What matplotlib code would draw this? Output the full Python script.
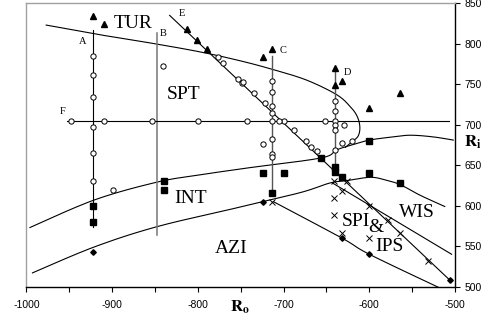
import numpy as np
import matplotlib
matplotlib.use('Agg')
import matplotlib.pyplot as plt

plt.rcParams['axes.unicode_minus'] = False
plt.rcParams['mathtext.fontset'] = 'stix'

# open circles
circ_x = [-922, -922, -922, -922, -922, -922,
          -948, -909, -853, -800, -743, -699, -652, -630,
          -841, -899,
          -713, -713, -713, -713, -713, -713, -713, -713, -724,
          -776, -771, -753, -749, -747, -735, -722, -705, -688, -674, -668, -661,
          -640, -640, -640, -640, -640, -640, -632, -620]
circ_y = [785, 761, 734, 697, 665, 630,
          704, 704, 704, 704, 704, 704, 705, 700,
          772, 619,
          754, 740, 723, 715, 705, 682, 664, 660, 676,
          783, 776, 757, 751, 753, 739, 727, 704, 694, 680, 672, 667,
          729, 717, 704, 699, 694, 669, 677, 680]

# filled triangles
tri_x = [-922, -909, -813, -801, -789, -713, -724, -640, -640, -632, -600, -564]
tri_y = [834, 824, 818, 805, 793, 794, 784, 770, 749, 754, 720, 739]

# filled squares
sq_x = [-922, -922, -840, -840, -724, -700, -713, -656, -640, -640, -632, -600, -564, -600]
sq_y = [600, 580, 631, 619, 640, 640, 616, 659, 648, 641, 636, 640, 628, 680]

# filled diamonds
dia_x = [-922, -724, -632, -600, -506]
dia_y = [543, 604, 560, 540, 508]

# crosses
crs_x = [-641, -626, -632, -641, -641, -632, -600, -600, -578, -564, -531, -713]
crs_y = [631, 631, 618, 610, 589, 566, 560, 600, 582, 566, 532, 605]

# boundary curves
tur_x = [-977, -914, -856, -798, -751, -712, -673, -638, -622, -614, -611, -613, -620, -628]
tur_y = [823, 811, 801, 790, 779, 768, 755, 737, 722, 710, 697, 686, 679, 672]

int_x = [-996, -921, -848, -798, -739, -656, -638, -617, -600, -572, -552, -526, -502]
int_y = [573, 607, 629, 638, 647, 659, 669, 676, 681, 685, 687, 685, 681]

azi_x = [-993, -921, -848, -760, -681, -646, -626, -599, -582, -564, -541, -512]
azi_y = [517, 549, 574, 596, 616, 628, 631, 635, 632, 626, 613, 599]

wis_x = [-643, -504]
wis_y = [628, 540]

spi_x = [-712, -632, -600, -517]
spi_y = [605, 560, 540, 498]

e_x = [-833, -506]
e_y = [835, 508]

# transect lines
a_x, a_y = [-922, -922], [574, 817]
b_x, b_y = [-848, -848], [564, 813]
c_x, c_y = [-713, -713], [615, 785]
d_x, d_y = [-640, -640], [648, 770]
f_x, f_y = [-953, -507], [704, 704]

small_labels = ['A', 'B', 'C', 'D', 'E', 'F']
small_lx = [-934, -840, -701, -626, -819, -958]
small_ly = [803, 813, 791, 765, 837, 716]

big_labels = ['TUR', 'SPT', 'INT', 'AZI', 'WIS', 'SPI', '&', 'IPS']
big_lx = [-876, -817, -808, -761, -545, -616, -592, -576]
big_ly = [825, 737, 609, 547, 591, 581, 573, 550]


#smooth curve through the given points (Catmull-Rom) for drawing only
def smooth(xs, ys, n=12):
    p = np.column_stack([xs, ys]).astype(float)
    if len(p) < 3:
        return p[:, 0], p[:, 1]
    p = np.vstack([p[0], p, p[-1]])
    out = []
    t = np.linspace(0, 1, n, endpoint=False)[:, None]
    for i in range(1, len(p) - 2):
        p0, p1, p2, p3 = p[i-1], p[i], p[i+1], p[i+2]
        seg = 0.5 * ((2*p1) + (-p0 + p2)*t + (2*p0 - 5*p1 + 4*p2 - p3)*t**2
                     + (-p0 + 3*p1 - 3*p2 + p3)*t**3)
        out.append(seg)
    out.append(p[-2][None, :])
    out = np.vstack(out)
    return out[:, 0], out[:, 1]


fig = plt.figure(figsize=(4.95, 3.21), dpi=100)
ax = fig.add_axes([0.0535, 0.107, 0.8657, 0.883])

lw = 0.8
for cx, cy in [(tur_x, tur_y), (int_x, int_y), (azi_x, azi_y), (wis_x, wis_y),
               (spi_x, spi_y), (e_x, e_y)]:
    sx, sy = smooth(cx, cy)
    ax.plot(sx, sy, 'k-', lw=lw)
ax.plot(a_x, a_y, 'k-', lw=lw)
ax.plot(b_x, b_y, '-', color='#777777', lw=1.1)
ax.plot(c_x, c_y, '-', color='#555555', lw=1.0)
ax.plot(d_x, d_y, '-', color='#555555', lw=1.0)
ax.plot(f_x, f_y, 'k-', lw=lw)

ax.plot(circ_x, circ_y, 'o', ms=3.8, mfc='white', mec='black', mew=0.7, ls='none')
ax.plot(tri_x, tri_y, '^', ms=4.5, color='black', ls='none')
ax.plot(sq_x, sq_y, 's', ms=4.2, color='black', ls='none')
ax.plot(dia_x, dia_y, 'D', ms=2.8, color='black', ls='none')
ax.plot(crs_x, crs_y, 'x', ms=4.2, color='black', mew=0.7, ls='none')

for i in range(len(small_labels)):
    ax.text(small_lx[i], small_ly[i], small_labels[i], family='Liberation Serif',
            fontsize=7.5, ha='center', va='center')
for i in range(len(big_labels)):
    ax.text(big_lx[i], big_ly[i], big_labels[i], family='Liberation Serif',
            fontsize=14, ha='center', va='center')

ax.set_xlim(-1000, -500)
ax.set_ylim(500, 850)
ax.set_xticks(np.arange(-1000, -499, 100))
ax.set_xticks(np.arange(-950, -500, 100), minor=True)
ax.set_yticks(np.arange(500, 851, 50))
ax.yaxis.tick_right()
ax.tick_params(axis='both', which='both', direction='out', length=3.5, width=0.8,
               labelsize=7.5, colors='black')
ax.tick_params(axis='x', pad=6)
for lab in ax.get_xticklabels() + ax.get_yticklabels():
    lab.set_family('Liberation Sans')

ax.spines['left'].set_color('#a0a0a0')
ax.spines['top'].set_color('#a0a0a0')
ax.spines['right'].set_color('black')
ax.spines['bottom'].set_color('black')
for s in ax.spines.values():
    s.set_linewidth(1.0)

fig.text(240/495, 1 - 307/321, r'$\mathbf{R_o}$', fontsize=12, ha='center', va='center')
fig.text(473/495, 1 - 142/321, r'$\mathbf{R_i}$', fontsize=12, ha='center', va='center')

fig.savefig('out.png', dpi=100)
